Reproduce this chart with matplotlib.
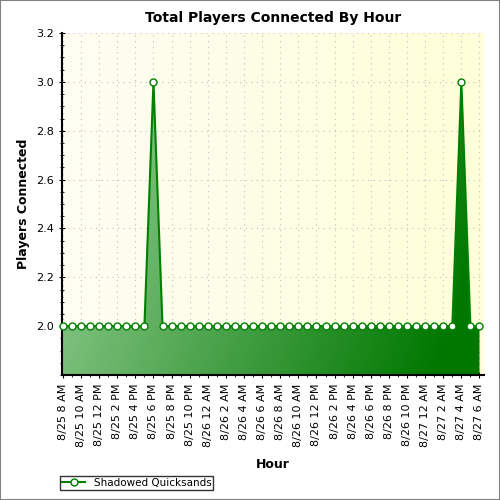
import matplotlib
matplotlib.use("Agg")
import matplotlib.pyplot as plt
import numpy as np
from matplotlib.colors import LinearSegmentedColormap
from matplotlib.ticker import MultipleLocator
from matplotlib.patches import Rectangle

hours = list(range(47))  # hourly from 8/25 8 AM
values = [2.0]*47
values[10] = 3.0
values[44] = 3.0
tick_labels = ["8/25 8 AM","8/25 10 AM","8/25 12 PM","8/25 2 PM","8/25 4 PM","8/25 6 PM",
 "8/25 8 PM","8/25 10 PM","8/26 12 AM","8/26 2 AM","8/26 4 AM","8/26 6 AM","8/26 8 AM",
 "8/26 10 AM","8/26 12 PM","8/26 2 PM","8/26 4 PM","8/26 6 PM","8/26 8 PM","8/26 10 PM",
 "8/27 12 AM","8/27 2 AM","8/27 4 AM","8/27 6 AM"]

fig = plt.figure(figsize=(5,5), dpi=100)
ax = fig.add_axes([0.124, 0.25, 0.844, 0.684])
xmin, xmax = -0.1, 46.5
ymin, ymax = 1.8, 3.2
ax.set_xlim(xmin, xmax); ax.set_ylim(ymin, ymax)

bg = LinearSegmentedColormap.from_list("bg", ["#fdfdf3", "#ffffd8"])
g = np.linspace(0,1,256).reshape(1,-1)
ax.imshow(g, cmap=bg, extent=[xmin,xmax,ymin,ymax], aspect="auto", zorder=0)

ax.grid(True, which="major", color="#c0c0c0", linestyle=(0,(1,4)), linewidth=0.8, zorder=1)

fg = LinearSegmentedColormap.from_list("fg", ["#a0d4a0", "#007800"])
xx, yy = np.meshgrid(np.linspace(0,1,200), np.linspace(0,1,200))
grad = np.clip(xx*0.85 + yy*0.25, 0, 1)
poly = ax.fill_between(hours, values, ymin, color="none", zorder=2)
im = ax.imshow(grad, cmap=fg, extent=[xmin,xmax,ymin,ymax], origin="upper", aspect="auto", zorder=2)
im.set_clip_path(poly.get_paths()[0], transform=ax.transData)

ax.plot(hours, values, color="#008000", lw=1.5, marker="o", markersize=5,
        markerfacecolor="white", markeredgecolor="#008000", markeredgewidth=1.0,
        zorder=3, label="Shadowed Quicksands", clip_on=False)

ax.set_xticks(range(0,47,2))
ax.set_xticklabels(tick_labels, rotation=90, fontsize=8)
ax.xaxis.set_minor_locator(MultipleLocator(1))
ax.set_yticks([2.0,2.2,2.4,2.6,2.8,3.0,3.2])
ax.set_yticklabels(["2.0","2.2","2.4","2.6","2.8","3.0","3.2"], fontsize=8)
ax.yaxis.set_minor_locator(MultipleLocator(0.05))
ax.tick_params(which="major", length=5, direction="inout")
ax.tick_params(which="minor", length=3, direction="inout")
for s in ["top","right"]:
    ax.spines[s].set_visible(False)
ax.spines["left"].set_linewidth(1.5); ax.spines["bottom"].set_linewidth(1.5)

ax.set_title("Total Players Connected By Hour", fontsize=10, fontweight="bold", pad=8)
ax.set_xlabel("Hour", fontsize=9, fontweight="bold", labelpad=8)
ax.set_ylabel("Players Connected", fontsize=9, fontweight="bold")

fig.legend(loc="lower left", bbox_to_anchor=(0.11, 0.01), fontsize=7.5, frameon=True,
           fancybox=False, edgecolor="black", borderpad=0.2, handlelength=2.2)
fig.patches.append(Rectangle((0,0),1,1,transform=fig.transFigure, fill=False,
                             edgecolor="#808080", lw=1.5))
fig.savefig("out.png", dpi=100, facecolor="white")
